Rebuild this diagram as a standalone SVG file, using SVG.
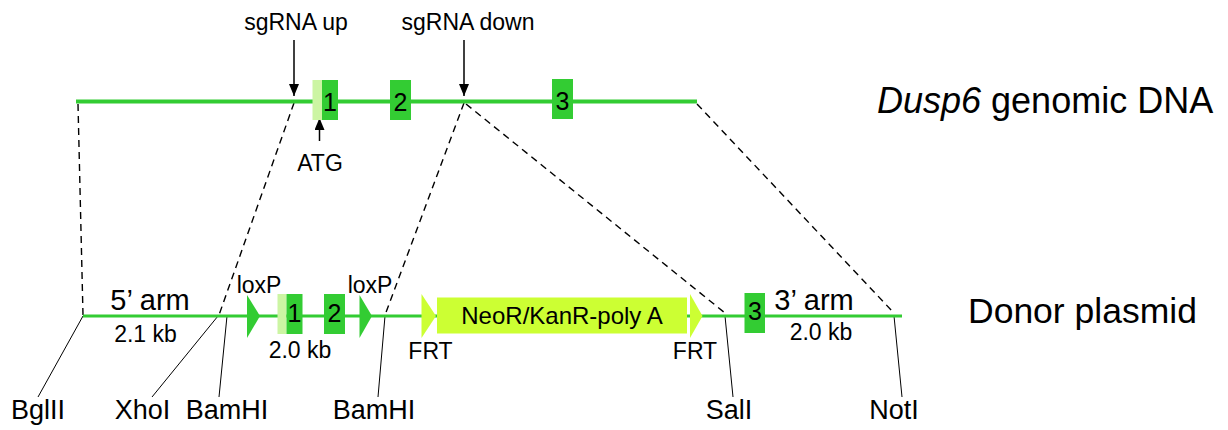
<svg xmlns="http://www.w3.org/2000/svg" width="1228" height="430" viewBox="0 0 1228 430">
<style>
text{font-family:"Liberation Sans",Arial,sans-serif;fill:#000}
.dna{stroke:#33cc33;fill:none}
.exon{fill:#33cc33}
.utr{fill:#ccf5a3}
.cas{fill:#ccff33}
.dash{stroke:#000;stroke-width:1.4;stroke-dasharray:7,5;fill:none}
.site{stroke:#000;stroke-width:1;fill:none}
.arr{stroke:#000;stroke-width:1.5;fill:none}
.num{font-size:25px;text-anchor:middle}
.lab{font-size:23px;text-anchor:middle}
.enz{font-size:27px;text-anchor:middle}
.arm{font-size:29px;text-anchor:middle}
</style>
<defs>
<marker id="ah" viewBox="0 0 12 10" refX="12" refY="5" markerWidth="12" markerHeight="10" markerUnits="userSpaceOnUse" orient="auto">
<path d="M0,0 L12,5 L0,10 Z" fill="#000"/>
</marker>
</defs>
<g id="connectors">
<line class="dash" x1="78" y1="104" x2="83" y2="315"/>
<line class="dash" x1="294" y1="103" x2="219" y2="315"/>
<line class="dash" x1="464" y1="103" x2="385" y2="315"/>
<line class="dash" x1="466" y1="104" x2="725" y2="313"/>
<line class="dash" x1="697" y1="104" x2="893" y2="312"/>
<line class="site" x1="83" y1="316" x2="38" y2="397"/>
<line class="site" x1="218" y1="316" x2="152" y2="397"/>
<line class="site" x1="227" y1="316" x2="219" y2="397"/>
<line class="site" x1="385" y1="316" x2="378" y2="397"/>
<line class="site" x1="725" y1="316" x2="733" y2="397"/>
<line class="site" x1="894" y1="316" x2="902" y2="397"/>
<line class="arr" x1="294" y1="40" x2="294" y2="96" marker-end="url(#ah)"/>
<line class="arr" x1="464" y1="40" x2="464" y2="96" marker-end="url(#ah)"/>
<line class="arr" x1="319.5" y1="141" x2="319.5" y2="118" marker-end="url(#ah)"/>
</g>
<g id="genomic">
<line class="dna" x1="76" y1="101.5" x2="697" y2="101.5" stroke-width="4"/>
<rect class="utr" x="312.5" y="80" width="9.5" height="40"/>
<rect class="exon" x="322" y="80" width="16" height="40"/>
<rect class="exon" x="390" y="80" width="21" height="40"/>
<rect class="exon" x="552" y="79" width="21" height="40"/>
<text class="num" x="330" y="111">1</text>
<text class="num" x="400.5" y="111">2</text>
<text class="num" x="562.5" y="110">3</text>
</g>
<g id="labels-top">
<text class="lab" x="296" y="30">sgRNA up</text>
<text class="lab" x="468" y="30">sgRNA down</text>
<text class="lab" x="320" y="171">ATG</text>
<text x="877" y="113" font-size="36"><tspan font-style="italic">Dusp6</tspan> genomic DNA</text>
</g>
<g id="donor">
<line class="dna" x1="83" y1="316" x2="902" y2="316" stroke-width="3"/>
<polygon class="exon" points="247,295 260,316 247,338"/>
<polygon class="exon" points="359.5,295 372,316 359.5,338"/>
<rect class="utr" x="277.5" y="294" width="9" height="40"/>
<rect class="exon" x="286.5" y="294" width="16" height="40"/>
<rect class="exon" x="324" y="294" width="21" height="40"/>
<text class="num" x="294.5" y="322">1</text>
<text class="num" x="334.5" y="322">2</text>
<polygon class="cas" points="421.5,294 436,316 421.5,338"/>
<rect class="cas" x="437" y="297.5" width="250" height="36"/>
<polygon class="cas" points="690,294 702.5,316 690,338"/>
<text x="562" y="324" font-size="24" text-anchor="middle">NeoR/KanR-poly A</text>
<rect class="exon" x="744.5" y="293" width="20.5" height="40"/>
<text class="num" x="755" y="320">3</text>
</g>
<g id="labels-bottom">
<text class="arm" x="150" y="310">5’ arm</text>
<text class="lab" x="145.5" y="342" font-size="22">2.1 kb</text>
<text class="lab" x="259" y="293">loxP</text>
<text class="lab" x="370" y="293">loxP</text>
<text class="lab" x="300" y="358" font-size="22">2.0 kb</text>
<text class="lab" x="430.5" y="359">FRT</text>
<text class="lab" x="695" y="359">FRT</text>
<text class="arm" x="814" y="310">3’ arm</text>
<text class="lab" x="821" y="340" font-size="22">2.0 kb</text>
<text x="968" y="323" font-size="35.5">Donor plasmid</text>
<text class="enz" x="38" y="419">BglII</text>
<text class="enz" x="142.5" y="419">XhoI</text>
<text class="enz" x="227" y="419">BamHI</text>
<text class="enz" x="374" y="419">BamHI</text>
<text class="enz" x="729" y="419">SalI</text>
<text class="enz" x="894" y="419">NotI</text>
</g>
</svg>
